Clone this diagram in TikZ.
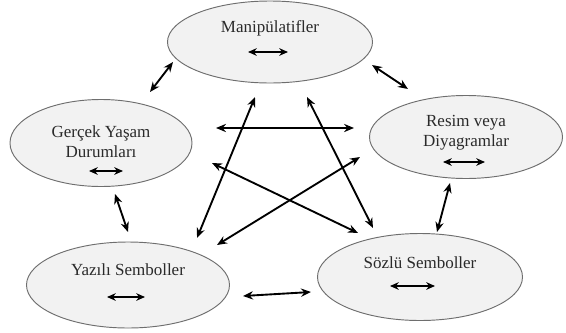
\documentclass[tikz,border=0pt]{standalone}
\usepackage{fontspec}
\setmainfont{Liberation Serif}
\newfontfamily\ovalfont{Liberation Serif}
\usetikzlibrary{shapes.geometric,arrows.meta,positioning}
\definecolor{ovalfill}{HTML}{F2F2F2}
\definecolor{ovalline}{HTML}{6E6E6E}
\definecolor{txtcol}{HTML}{2A2A2A}
\tikzset{
  oval/.style={ellipse, draw=ovalline, fill=ovalfill, line width=0.8pt, inner sep=0pt},
  lbl/.style={align=center, text=txtcol, font=\ovalfont\fontsize{14.5}{17}\selectfont},
  link/.style={{Stealth[length=8.5pt,width=7pt]}-{Stealth[length=8.5pt,width=7pt]}, line width=1.6pt},
  inlink/.style={{Stealth[length=7.5pt,width=6.5pt]}-{Stealth[length=7.5pt,width=6.5pt]}, line width=1.4pt}
}

\begin{document}
\begin{tikzpicture}[x=0.03cm, y=-0.03cm]
    \useasboundingbox (0,0) rectangle (566,332);

    % Ovals
    \node [oval, minimum width=6.15cm, minimum height=2.46cm] (manip) at (270,42) {};
    \node [oval, minimum width=5.46cm, minimum height=2.61cm] (gercek) at (101,143) {};
    \node [oval, minimum width=5.79cm, minimum height=2.49cm] (resim) at (466,137) {};
    \node [oval, minimum width=6.09cm, minimum height=2.58cm] (yazili) at (128,285) {};
    \node [oval, minimum width=6.15cm, minimum height=2.61cm] (sozlu) at (420,277) {};

    % Texts
    \node [lbl] (manip_txt) at ([shift={(0,-14)}]manip.center) {Manipülatifler};
    \node [lbl] (gercek_txt) at ([shift={(0,-1)}]gercek.center) {Gerçek Yaşam\\Durumları};
    \node [lbl] (resim_txt) at ([shift={(0,-4)}]resim.center) {Resim veya\\Diyagramlar};
    \node [lbl] (yazili_txt) at ([shift={(0,-15)}]yazili.center) {Yazılı Semboller};
    \node [lbl] (sozlu_txt) at ([shift={(0,-14)}]sozlu.center) {Sözlü Semboller};

    % small arrows inside the ovals
    \draw[inlink] ([shift={(-22,10)}]manip.center) -- ([shift={(18,10)}]manip.center);
    \draw[inlink] ([shift={(-12,28)}]gercek.center) -- ([shift={(22,28)}]gercek.center);
    \draw[inlink] ([shift={(-23,25)}]resim.center) -- ([shift={(19,25)}]resim.center);
    \draw[inlink] ([shift={(-21,12)}]yazili.center) -- ([shift={(17,12)}]yazili.center);
    \draw[inlink] ([shift={(-30,9)}]sozlu.center) -- ([shift={(15,9)}]sozlu.center);

    % arrows between the ovals
    \draw[link] ([shift={(49,-51)}]gercek.center) -- ([shift={(-97,20)}]manip.center);
    \draw[link] ([shift={(102,23)}]manip.center) -- ([shift={(-58,-48)}]resim.center);
    \draw[link] ([shift={(115,-15)}]gercek.center) -- ([shift={(-112,-9)}]resim.center);
    \draw[link] ([shift={(111,20)}]gercek.center) -- ([shift={(-62,-44)}]sozlu.center);
    \draw[link] ([shift={(-106,20)}]resim.center) -- ([shift={(89,-40)}]yazili.center);
    \draw[link] ([shift={(-15,55)}]manip.center) -- ([shift={(69,-47)}]yazili.center);
    \draw[link] ([shift={(37,55)}]manip.center) -- ([shift={(-47,-49)}]sozlu.center);
    \draw[link] ([shift={(-16,46)}]resim.center) -- ([shift={(17,-45)}]sozlu.center);
    \draw[link] ([shift={(14,51)}]gercek.center) -- ([shift={(0,-53)}]yazili.center);
    \draw[link] ([shift={(115,11)}]yazili.center) -- ([shift={(-109,15)}]sozlu.center);

\end{tikzpicture}
\end{document}
